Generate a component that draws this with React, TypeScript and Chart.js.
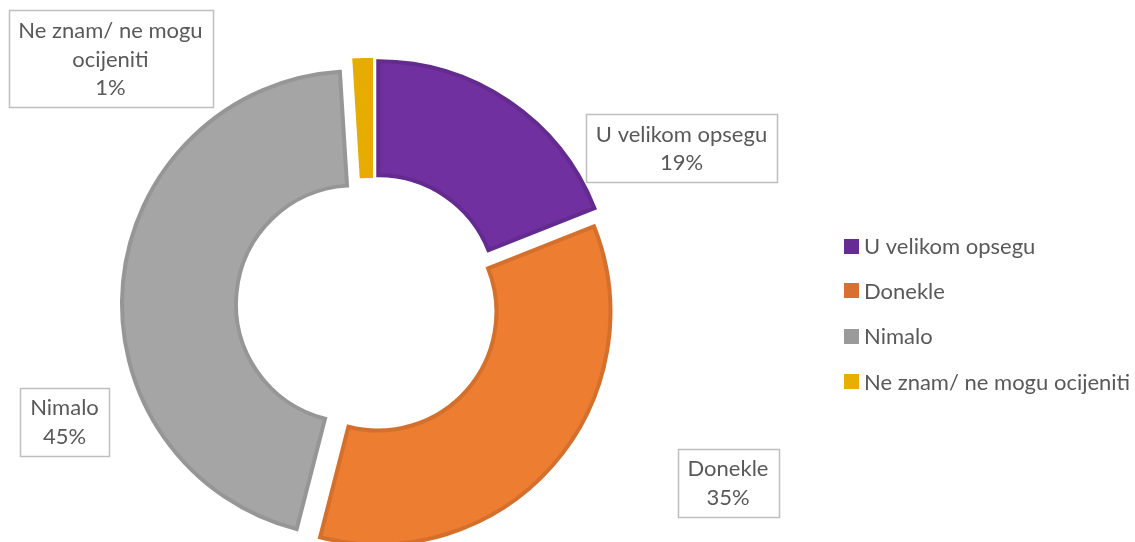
import React, { useEffect, useRef } from 'react';
import { Chart, registerables } from 'chart.js';

Chart.register(...registerables);

// ---- data ----
const CATEGORIES = ['U velikom opsegu', 'Donekle', 'Nimalo', 'Ne znam/ ne mogu ocijeniti'];
const SHARES = [19, 35, 45, 1];

// ---- styling / layout (not data) ----
const FILL = ['#7030A0', '#ED7D31', '#A5A5A5', '#E6AC00'];
const EDGE = ['#632A8F', '#D5702C', '#969696', '#E6AC00'];
const EDGE_W = [4, 4, 4, 6];
const LEGEND_KEY = ['#672C94', '#D87130', '#9A9A9A', '#E8AE00'];
const EXPLODE = [14, 10, 16, 12];
const LABEL_CENTER: [number, number][] = [
  [681.5, 148],
  [728, 482.5],
  [64.5, 421.5],
  [110.5, 58.5],
];
const TEXT_COLOR = '#595959';
const FONT = '22px Lato, "Open Sans", sans-serif';
const LINE_H = 28.5;
const WRAP_W = 190;

const W = 1135;
const H = 542;
const CX = 370.4;
const CY = 305.4;

function wrap(ctx: CanvasRenderingContext2D, text: string, maxW: number): string[] {
  const words = text.split(' ');
  const lines: string[] = [];
  let cur = '';
  for (const w of words) {
    const test = cur ? cur + ' ' + w : w;
    if (cur && ctx.measureText(test).width > maxW) {
      lines.push(cur);
      cur = w;
    } else {
      cur = test;
    }
  }
  if (cur) lines.push(cur);
  return lines;
}

const explodePlugin = {
  id: 'explodeSlices',
  afterDatasetUpdate(chart: any, args: any) {
    const meta = chart.getDatasetMeta(args.index);
    meta.data.forEach((el: any, i: number) => {
      const mid = (el.startAngle + el.endAngle) / 2;
      const d = EXPLODE[i] ?? 0;
      el.x += Math.cos(mid) * d;
      el.y += Math.sin(mid) * d;
    });
  },
};

const labelPlugin = {
  id: 'boxedLabels',
  afterDraw(chart: any) {
    const ctx: CanvasRenderingContext2D = chart.ctx;
    const values: number[] = chart.data.datasets[0].data;
    const labels: string[] = chart.data.labels;
    ctx.save();
    ctx.font = FONT;
    ctx.textAlign = 'center';
    ctx.textBaseline = 'middle';
    labels.forEach((lab, i) => {
      const lines = [...wrap(ctx, lab, WRAP_W), `${values[i]}%`];
      const tw = Math.max(...lines.map((l) => ctx.measureText(l).width));
      const bw = Math.round(tw + 20);
      const bh = Math.round(lines.length * LINE_H + 11);
      const [cx, cy] = LABEL_CENTER[i];
      const x0 = Math.round(cx - bw / 2) + 0.5;
      const y0 = Math.round(cy - bh / 2) + 0.5;
      ctx.fillStyle = '#FFFFFF';
      ctx.fillRect(x0, y0, bw, bh);
      ctx.strokeStyle = '#BFBFBF';
      ctx.lineWidth = 1.5;
      ctx.strokeRect(x0, y0, bw, bh);
      ctx.fillStyle = TEXT_COLOR;
      lines.forEach((l, k) => {
        const y = cy + (k - (lines.length - 1) / 2) * LINE_H + 1;
        ctx.fillText(l, cx, y);
      });
    });

    // legend
    const rows = [246, 290.5, 336, 381.5];
    ctx.textAlign = 'left';
    labels.forEach((lab, i) => {
      const y = rows[i];
      ctx.fillStyle = LEGEND_KEY[i];
      ctx.fillRect(844, Math.round(y - 7.5), 15, 15);
      ctx.fillStyle = TEXT_COLOR;
      ctx.fillText(lab, 864, y + 1);
    });
    ctx.restore();
  },
};

export default function App() {
  const ref = useRef<HTMLCanvasElement | null>(null);

  useEffect(() => {
    if (!ref.current) return;
    const chart = new Chart(ref.current, {
      type: 'doughnut',
      data: {
        labels: CATEGORIES,
        datasets: [
          {
            data: SHARES,
            backgroundColor: FILL,
            borderColor: EDGE,
            borderWidth: EDGE_W,
            borderJoinStyle: 'miter',
            borderAlign: 'center',
          } as any,
        ],
      },
      options: {
        animation: false,
        responsive: false,
        radius: 232.5,
        cutout: '50.97%',
        rotation: 0,
        layout: {
          padding: { left: 0, right: W - 2 * CX, top: 2 * CY - H, bottom: 0 },
        },
        plugins: {
          legend: { display: false },
          tooltip: { enabled: false },
        },
        events: [],
      } as any,
      plugins: [explodePlugin, labelPlugin],
    });
    return () => chart.destroy();
  }, []);

  return (
    <div style={{ position: 'absolute', left: 0, top: 0, width: W, height: H, background: '#fff' }}>
      <canvas ref={ref} width={W} height={H} style={{ display: 'block' }} />
    </div>
  );
}
